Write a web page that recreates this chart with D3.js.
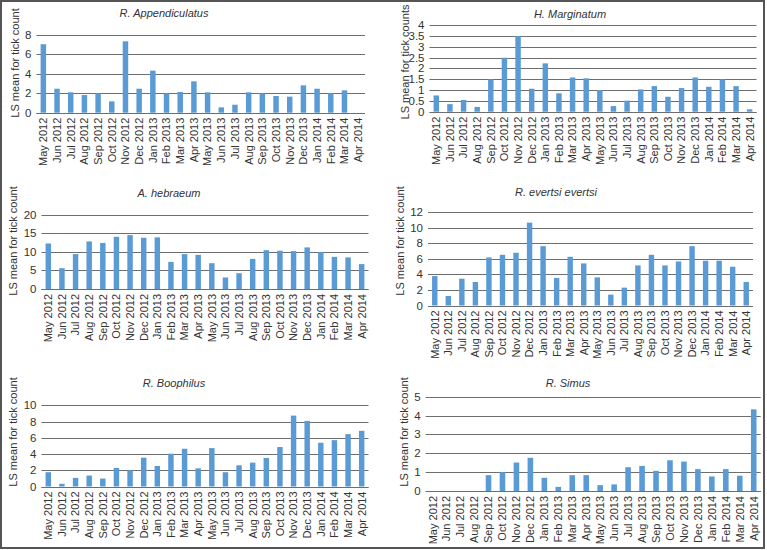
<!DOCTYPE html>
<html>
<head>
<meta charset="utf-8">
<script src="https://cdn.jsdelivr.net/npm/d3@7"></script>
<style>
  html, body { margin: 0; padding: 0; background: #fff; }
  svg { display: block; font-family: "Liberation Sans", Arial, sans-serif; }
</style>
</head>
<body>
<svg id="chart" width="767" height="550"></svg>
<script>
// ---- data ----
const months = ["May 2012","Jun 2012","Jul 2012","Aug 2012","Sep 2012","Oct 2012","Nov 2012","Dec 2012",
  "Jan 2013","Feb 2013","Mar 2013","Apr 2013","May 2013","Jun 2013","Jul 2013","Aug 2013","Sep 2013",
  "Oct 2013","Nov 2013","Dec 2013","Jan 2014","Feb 2014","Mar 2014","Apr 2014"];

const appendiculatus = [7.05,2.47,2.1,1.82,2.0,1.17,7.35,2.47,4.33,2.0,2.13,3.23,2.1,0.55,0.82,2.1,2.0,1.72,1.65,2.82,2.47,2.0,2.3,0];
const marginatum = [0.75,0.35,0.54,0.22,1.49,2.49,3.49,1.06,2.23,0.85,1.58,1.54,1.0,0.26,0.51,1.03,1.18,0.69,1.09,1.58,1.15,1.49,1.18,0.11];
const hebraeum = [12.25,5.6,9.4,12.8,12.4,14.05,14.5,13.8,13.9,7.3,9.4,9.2,6.95,3.1,4.25,8.1,10.45,10.3,10.2,11.2,9.9,8.65,8.5,6.7];
const evertsi = [3.79,1.23,3.45,3.03,6.19,6.53,6.79,10.67,7.64,3.54,6.27,5.42,3.62,1.4,2.3,5.16,6.53,5.16,5.67,7.64,5.76,5.76,4.99,3.03];
const boophilus = [1.76,0.33,1.06,1.35,0.98,2.29,2.0,3.55,2.53,4.04,4.65,2.24,4.73,1.76,2.61,2.94,3.51,4.86,8.73,8.08,5.39,5.71,6.45,6.86];
const simus = [0,0,0,0,0.84,1.0,1.51,1.76,0.7,0.22,0.84,0.84,0.31,0.35,1.26,1.33,1.07,1.63,1.56,1.16,0.77,1.16,0.81,4.33];

const ticksAppendiculatus = [0,2,4,6,8];
const ticksMarginatum = [0,0.5,1,1.5,2,2.5,3,3.5,4];
const ticksHebraeum = [0,5,10,15,20];
const ticksEvertsi = [0,2,4,6,8,10,12];
const ticksBoophilus = [0,2,4,6,8,10];
const ticksSimus = [0,1,2,3,4,5];

const titles = ["R. Appendiculatus","H. Marginatum","A. hebraeum","R. evertsi evertsi","R. Boophilus","R. Simus"];
const yTitles = ["LS mean for tick count","LS mean for tick counts","LS mean for tick count",
  "LS mean for tick count","LS mean for tick count","LS mean for tick count"];

// ---- layout (positions only) ----
const layout = [
  {values: appendiculatus, ticks: ticksAppendiculatus, left: 36.5, right: 365, top: 35, bottom: 112.7, titleX: 164, titleY: 17, ylabX: 15, ylabY: 63},
  {values: marginatum, ticks: ticksMarginatum, left: 429.5, right: 756.5, top: 25, bottom: 111.7, titleX: 570, titleY: 17.5, ylabX: 405, ylabY: 62},
  {values: hebraeum, ticks: ticksHebraeum, left: 41.5, right: 368.5, top: 214.7, bottom: 289, titleX: 169, titleY: 197, ylabX: 13, ylabY: 241},
  {values: evertsi, ticks: ticksEvertsi, left: 428, right: 753, top: 212.3, bottom: 305.5, titleX: 556, titleY: 196, ylabX: 400, ylabY: 241},
  {values: boophilus, ticks: ticksBoophilus, left: 41.5, right: 368.5, top: 405.3, bottom: 486.5, titleX: 174, titleY: 387, ylabX: 13, ylabY: 432},
  {values: simus, ticks: ticksSimus, left: 425.7, right: 760.7, top: 396.7, bottom: 491, titleX: 568, titleY: 387, ylabX: 404, ylabY: 432}
];

const svg = d3.select("#chart");
const barColor = "#5b9bd5";
const gridColor = "#6e6e6e";
const textColor = "#333";

layout.forEach((p, i) => {
  const g = svg.append("g");
  const x = d3.scaleBand().domain(months).range([p.left, p.right]).paddingInner(0.6).paddingOuter(0.3);
  const yMax = p.ticks[p.ticks.length - 1];
  const y = d3.scaleLinear().domain([0, yMax]).range([p.bottom, p.top]);
  const crisp = v => Math.round(v) + 0.5;

  // gridlines
  g.selectAll("line.grid").data(p.ticks).enter().append("line")
    .attr("x1", p.left).attr("x2", p.right)
    .attr("y1", d => crisp(y(d))).attr("y2", d => crisp(y(d)))
    .attr("stroke", gridColor).attr("stroke-width", 1);

  // y tick labels
  g.selectAll("text.ytick").data(p.ticks).enter().append("text")
    .attr("x", p.left - 5).attr("y", d => y(d)).attr("dy", "0.35em")
    .attr("text-anchor", "end").attr("font-size", 11.5).attr("fill", textColor)
    .text(d => String(d));

  // bars
  g.selectAll("rect.bar").data(p.values.map((v, k) => ({m: months[k], v}))).enter()
    .filter(d => d.v > 0)
    .append("rect")
    .attr("x", d => x(d.m)).attr("width", x.bandwidth())
    .attr("y", d => y(d.v)).attr("height", d => y(0) - y(d.v))
    .attr("fill", barColor);

  // x axis line
  g.append("line").attr("x1", p.left).attr("x2", p.right)
    .attr("y1", crisp(y(0))).attr("y2", crisp(y(0)))
    .attr("stroke", gridColor).attr("stroke-width", 1);

  // x labels (rotated)
  g.selectAll("text.xl").data(months).enter().append("text")
    .attr("transform", d => `translate(${x(d) + x.bandwidth() / 2},${y(0) + 5}) rotate(-90)`)
    .attr("dy", "0.35em").attr("text-anchor", "end")
    .attr("font-size", 11).attr("fill", textColor)
    .text(d => d);

  // title
  g.append("text").attr("x", p.titleX).attr("y", p.titleY)
    .attr("text-anchor", "middle").attr("font-size", 11).attr("font-style", "italic")
    .attr("fill", textColor).text(titles[i]);

  // y title
  g.append("text")
    .attr("transform", `translate(${p.ylabX},${p.ylabY}) rotate(-90)`)
    .attr("dy", "0.35em").attr("text-anchor", "middle")
    .attr("font-size", 11).attr("fill", textColor)
    .text(yTitles[i]);
});

// outer frame
svg.append("rect").attr("x", 1).attr("y", 1).attr("width", 763).attr("height", 547)
  .attr("fill", "none").attr("stroke", "#555").attr("stroke-width", 2);
</script>
</body>
</html>
